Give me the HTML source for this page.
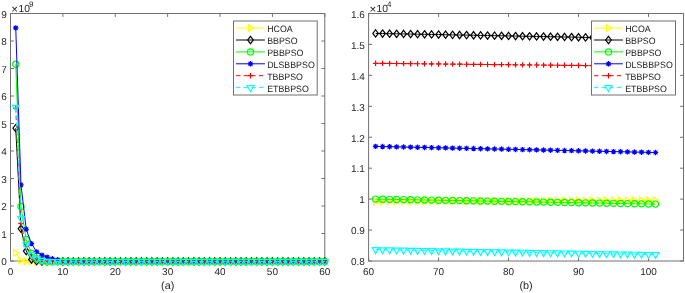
<!DOCTYPE html>
<html><head><meta charset="utf-8"><style>
html,body{margin:0;padding:0;background:#fff;width:685px;height:293px;overflow:hidden}
svg{display:block;will-change:transform}
.tk{font-family:"Liberation Sans",sans-serif;font-size:10px;fill:#262626;text-rendering:geometricPrecision}
.lg{font-family:"Liberation Sans",sans-serif;font-size:9.2px;fill:#1a1a1a;text-rendering:geometricPrecision}
</style></head><body>
<svg width="685" height="293" viewBox="0 0 685 293">
<clipPath id="cl"><rect x="6.5" y="13.5" width="322.3" height="253.5"/></clipPath>
<clipPath id="cr"><rect x="368.6" y="13.5" width="314.9" height="247.5"/></clipPath>
<path d="M10.5 261v-3.4M10.5 13.5v3.4M62.88 261v-3.4M62.88 13.5v3.4M115.27 261v-3.4M115.27 13.5v3.4M167.65 261v-3.4M167.65 13.5v3.4M220.03 261v-3.4M220.03 13.5v3.4M272.42 261v-3.4M272.42 13.5v3.4M324.8 261v-3.4M324.8 13.5v3.4M10.5 261h3.4M324.8 261h-3.4M10.5 233.5h3.4M324.8 233.5h-3.4M10.5 206h3.4M324.8 206h-3.4M10.5 178.5h3.4M324.8 178.5h-3.4M10.5 151h3.4M324.8 151h-3.4M10.5 123.5h3.4M324.8 123.5h-3.4M10.5 96h3.4M324.8 96h-3.4M10.5 68.5h3.4M324.8 68.5h-3.4M10.5 41h3.4M324.8 41h-3.4M10.5 13.5h3.4M324.8 13.5h-3.4" stroke="#707070" fill="none"/>
<rect x="10.5" y="13.5" width="314.3" height="247.5" fill="none" stroke="#707070"/>
<text x="10.5" y="275.0" text-anchor="middle" class="tk">0</text>
<text x="62.88" y="275.0" text-anchor="middle" class="tk">10</text>
<text x="115.27" y="275.0" text-anchor="middle" class="tk">20</text>
<text x="167.65" y="275.0" text-anchor="middle" class="tk">30</text>
<text x="220.03" y="275.0" text-anchor="middle" class="tk">40</text>
<text x="272.42" y="275.0" text-anchor="middle" class="tk">50</text>
<text x="324.8" y="275.0" text-anchor="middle" class="tk">60</text>
<text x="6.7" y="265.3" text-anchor="end" class="tk">0</text>
<text x="6.7" y="237.8" text-anchor="end" class="tk">1</text>
<text x="6.7" y="210.3" text-anchor="end" class="tk">2</text>
<text x="6.7" y="182.8" text-anchor="end" class="tk">3</text>
<text x="6.7" y="155.3" text-anchor="end" class="tk">4</text>
<text x="6.7" y="127.8" text-anchor="end" class="tk">5</text>
<text x="6.7" y="100.3" text-anchor="end" class="tk">6</text>
<text x="6.7" y="72.8" text-anchor="end" class="tk">7</text>
<text x="6.7" y="45.3" text-anchor="end" class="tk">8</text>
<text x="6.7" y="17.8" text-anchor="end" class="tk">9</text>
<text x="11.3" y="12.6" class="tk"><tspan style="font-size:11.5px">×</tspan><tspan dx="0.4" dy="-0.3" style="font-size:10.3px">10</tspan><tspan dx="-1.0" dy="-5.4" style="font-size:8px">9</tspan></text>
<text x="167.65" y="289" text-anchor="middle" class="tk" style="font-size:10.8px">(a)</text>
<path d="M368.6 261v-3.4M368.6 13.5v3.4M438.58 261v-3.4M438.58 13.5v3.4M508.56 261v-3.4M508.56 13.5v3.4M578.53 261v-3.4M578.53 13.5v3.4M648.51 261v-3.4M648.51 13.5v3.4M368.6 261h3.4M683.5 261h-3.4M368.6 230.06h3.4M683.5 230.06h-3.4M368.6 199.12h3.4M683.5 199.12h-3.4M368.6 168.19h3.4M683.5 168.19h-3.4M368.6 137.25h3.4M683.5 137.25h-3.4M368.6 106.31h3.4M683.5 106.31h-3.4M368.6 75.37h3.4M683.5 75.37h-3.4M368.6 44.44h3.4M683.5 44.44h-3.4M368.6 13.5h3.4M683.5 13.5h-3.4" stroke="#707070" fill="none"/>
<rect x="368.6" y="13.5" width="314.9" height="247.5" fill="none" stroke="#707070"/>
<text x="368.6" y="275.0" text-anchor="middle" class="tk">60</text>
<text x="438.58" y="275.0" text-anchor="middle" class="tk">70</text>
<text x="508.56" y="275.0" text-anchor="middle" class="tk">80</text>
<text x="578.53" y="275.0" text-anchor="middle" class="tk">90</text>
<text x="648.51" y="275.0" text-anchor="middle" class="tk">100</text>
<text x="364.8" y="265.3" text-anchor="end" class="tk">0.8</text>
<text x="364.8" y="234.36" text-anchor="end" class="tk">0.9</text>
<text x="364.8" y="203.43" text-anchor="end" class="tk">1</text>
<text x="364.8" y="172.49" text-anchor="end" class="tk">1.1</text>
<text x="364.8" y="141.55" text-anchor="end" class="tk">1.2</text>
<text x="364.8" y="110.61" text-anchor="end" class="tk">1.3</text>
<text x="364.8" y="79.67" text-anchor="end" class="tk">1.4</text>
<text x="364.8" y="48.74" text-anchor="end" class="tk">1.5</text>
<text x="364.8" y="17.8" text-anchor="end" class="tk">1.6</text>
<text x="369.4" y="12.6" class="tk"><tspan style="font-size:11.5px">×</tspan><tspan dx="0.4" dy="-0.3" style="font-size:10.3px">10</tspan><tspan dx="-1.0" dy="-5.4" style="font-size:8px">4</tspan></text>
<text x="526.05" y="289" text-anchor="middle" class="tk" style="font-size:10.8px">(b)</text>
<g clip-path="url(#cl)" stroke-width="1"><path d="M15.74 252.96L20.98 260.4L26.22 261.5L31.45 261.5L36.69 261.5L41.93 261.5L47.17 261.5L52.41 261.5L57.65 261.5L62.88 261.5L68.12 261.5L73.36 261.5L78.6 261.5L83.84 261.5L89.08 261.5L94.31 261.5L99.55 261.5L104.79 261.5L110.03 261.5L115.27 261.5L120.5 261.5L125.74 261.5L130.98 261.5L136.22 261.5L141.46 261.5L146.7 261.5L151.94 261.5L157.17 261.5L162.41 261.5L167.65 261.5L172.89 261.5L178.13 261.5L183.37 261.5L188.6 261.5L193.84 261.5L199.08 261.5L204.32 261.5L209.56 261.5L214.8 261.5L220.03 261.5L225.27 261.5L230.51 261.5L235.75 261.5L240.99 261.5L246.23 261.5L251.46 261.5L256.7 261.5L261.94 261.5L267.18 261.5L272.42 261.5L277.66 261.5L282.89 261.5L288.13 261.5L293.37 261.5L298.61 261.5L303.85 261.5L309.08 261.5L314.32 261.5L319.56 261.5L324.8 261.5" fill="none" stroke="#ffff00"/><g stroke-width="1.2"><path d="M13.64 249.66L18.84 252.96L13.64 256.26Z" fill="none" stroke="#ffff00"/><path d="M18.88 257.1L24.08 260.4L18.88 263.7Z" fill="none" stroke="#ffff00"/><path d="M24.12 258.2L29.32 261.5L24.12 264.8Z" fill="none" stroke="#ffff00"/><path d="M29.35 258.2L34.55 261.5L29.35 264.8Z" fill="none" stroke="#ffff00"/><path d="M34.59 258.2L39.79 261.5L34.59 264.8Z" fill="none" stroke="#ffff00"/><path d="M39.83 258.2L45.03 261.5L39.83 264.8Z" fill="none" stroke="#ffff00"/><path d="M45.07 258.2L50.27 261.5L45.07 264.8Z" fill="none" stroke="#ffff00"/><path d="M50.31 258.2L55.51 261.5L50.31 264.8Z" fill="none" stroke="#ffff00"/><path d="M55.55 258.2L60.75 261.5L55.55 264.8Z" fill="none" stroke="#ffff00"/><path d="M60.78 258.2L65.98 261.5L60.78 264.8Z" fill="none" stroke="#ffff00"/><path d="M66.02 258.2L71.22 261.5L66.02 264.8Z" fill="none" stroke="#ffff00"/><path d="M71.26 258.2L76.46 261.5L71.26 264.8Z" fill="none" stroke="#ffff00"/><path d="M76.5 258.2L81.7 261.5L76.5 264.8Z" fill="none" stroke="#ffff00"/><path d="M81.74 258.2L86.94 261.5L81.74 264.8Z" fill="none" stroke="#ffff00"/><path d="M86.98 258.2L92.17 261.5L86.98 264.8Z" fill="none" stroke="#ffff00"/><path d="M92.21 258.2L97.41 261.5L92.21 264.8Z" fill="none" stroke="#ffff00"/><path d="M97.45 258.2L102.65 261.5L97.45 264.8Z" fill="none" stroke="#ffff00"/><path d="M102.69 258.2L107.89 261.5L102.69 264.8Z" fill="none" stroke="#ffff00"/><path d="M107.93 258.2L113.13 261.5L107.93 264.8Z" fill="none" stroke="#ffff00"/><path d="M113.17 258.2L118.37 261.5L113.17 264.8Z" fill="none" stroke="#ffff00"/><path d="M118.41 258.2L123.6 261.5L118.41 264.8Z" fill="none" stroke="#ffff00"/><path d="M123.64 258.2L128.84 261.5L123.64 264.8Z" fill="none" stroke="#ffff00"/><path d="M128.88 258.2L134.08 261.5L128.88 264.8Z" fill="none" stroke="#ffff00"/><path d="M134.12 258.2L139.32 261.5L134.12 264.8Z" fill="none" stroke="#ffff00"/><path d="M139.36 258.2L144.56 261.5L139.36 264.8Z" fill="none" stroke="#ffff00"/><path d="M144.6 258.2L149.8 261.5L144.6 264.8Z" fill="none" stroke="#ffff00"/><path d="M149.84 258.2L155.03 261.5L149.84 264.8Z" fill="none" stroke="#ffff00"/><path d="M155.07 258.2L160.27 261.5L155.07 264.8Z" fill="none" stroke="#ffff00"/><path d="M160.31 258.2L165.51 261.5L160.31 264.8Z" fill="none" stroke="#ffff00"/><path d="M165.55 258.2L170.75 261.5L165.55 264.8Z" fill="none" stroke="#ffff00"/><path d="M170.79 258.2L175.99 261.5L170.79 264.8Z" fill="none" stroke="#ffff00"/><path d="M176.03 258.2L181.23 261.5L176.03 264.8Z" fill="none" stroke="#ffff00"/><path d="M181.27 258.2L186.47 261.5L181.27 264.8Z" fill="none" stroke="#ffff00"/><path d="M186.5 258.2L191.7 261.5L186.5 264.8Z" fill="none" stroke="#ffff00"/><path d="M191.74 258.2L196.94 261.5L191.74 264.8Z" fill="none" stroke="#ffff00"/><path d="M196.98 258.2L202.18 261.5L196.98 264.8Z" fill="none" stroke="#ffff00"/><path d="M202.22 258.2L207.42 261.5L202.22 264.8Z" fill="none" stroke="#ffff00"/><path d="M207.46 258.2L212.66 261.5L207.46 264.8Z" fill="none" stroke="#ffff00"/><path d="M212.7 258.2L217.9 261.5L212.7 264.8Z" fill="none" stroke="#ffff00"/><path d="M217.93 258.2L223.13 261.5L217.93 264.8Z" fill="none" stroke="#ffff00"/><path d="M223.17 258.2L228.37 261.5L223.17 264.8Z" fill="none" stroke="#ffff00"/><path d="M228.41 258.2L233.61 261.5L228.41 264.8Z" fill="none" stroke="#ffff00"/><path d="M233.65 258.2L238.85 261.5L233.65 264.8Z" fill="none" stroke="#ffff00"/><path d="M238.89 258.2L244.09 261.5L238.89 264.8Z" fill="none" stroke="#ffff00"/><path d="M244.13 258.2L249.33 261.5L244.13 264.8Z" fill="none" stroke="#ffff00"/><path d="M249.36 258.2L254.56 261.5L249.36 264.8Z" fill="none" stroke="#ffff00"/><path d="M254.6 258.2L259.8 261.5L254.6 264.8Z" fill="none" stroke="#ffff00"/><path d="M259.84 258.2L265.04 261.5L259.84 264.8Z" fill="none" stroke="#ffff00"/><path d="M265.08 258.2L270.28 261.5L265.08 264.8Z" fill="none" stroke="#ffff00"/><path d="M270.32 258.2L275.52 261.5L270.32 264.8Z" fill="none" stroke="#ffff00"/><path d="M275.56 258.2L280.76 261.5L275.56 264.8Z" fill="none" stroke="#ffff00"/><path d="M280.79 258.2L285.99 261.5L280.79 264.8Z" fill="none" stroke="#ffff00"/><path d="M286.03 258.2L291.23 261.5L286.03 264.8Z" fill="none" stroke="#ffff00"/><path d="M291.27 258.2L296.47 261.5L291.27 264.8Z" fill="none" stroke="#ffff00"/><path d="M296.51 258.2L301.71 261.5L296.51 264.8Z" fill="none" stroke="#ffff00"/><path d="M301.75 258.2L306.95 261.5L301.75 264.8Z" fill="none" stroke="#ffff00"/><path d="M306.98 258.2L312.19 261.5L306.98 264.8Z" fill="none" stroke="#ffff00"/><path d="M312.22 258.2L317.42 261.5L312.22 264.8Z" fill="none" stroke="#ffff00"/><path d="M317.46 258.2L322.66 261.5L317.46 264.8Z" fill="none" stroke="#ffff00"/><path d="M322.7 258.2L327.9 261.5L322.7 264.8Z" fill="none" stroke="#ffff00"/></g><path d="M15.74 128.13L20.98 228.71L26.22 251.03L31.45 259.57L36.69 261.22L41.93 261.5L47.17 261.5L52.41 261.5L57.65 261.5L62.88 261.5L68.12 261.5L73.36 261.5L78.6 261.5L83.84 261.5L89.08 261.5L94.31 261.5L99.55 261.5L104.79 261.5L110.03 261.5L115.27 261.5L120.5 261.5L125.74 261.5L130.98 261.5L136.22 261.5L141.46 261.5L146.7 261.5L151.94 261.5L157.17 261.5L162.41 261.5L167.65 261.5L172.89 261.5L178.13 261.5L183.37 261.5L188.6 261.5L193.84 261.5L199.08 261.5L204.32 261.5L209.56 261.5L214.8 261.5L220.03 261.5L225.27 261.5L230.51 261.5L235.75 261.5L240.99 261.5L246.23 261.5L251.46 261.5L256.7 261.5L261.94 261.5L267.18 261.5L272.42 261.5L277.66 261.5L282.89 261.5L288.13 261.5L293.37 261.5L298.61 261.5L303.85 261.5L309.08 261.5L314.32 261.5L319.56 261.5L324.8 261.5" fill="none" stroke="#000000"/><g stroke-width="1.2"><path d="M15.74 124.48L18.54 128.13L15.74 131.78L12.94 128.13Z" fill="none" stroke="#000000"/><path d="M20.98 225.06L23.78 228.71L20.98 232.36L18.18 228.71Z" fill="none" stroke="#000000"/><path d="M26.22 247.38L29.02 251.03L26.22 254.68L23.42 251.03Z" fill="none" stroke="#000000"/><path d="M31.45 255.92L34.25 259.57L31.45 263.22L28.65 259.57Z" fill="none" stroke="#000000"/><path d="M36.69 257.57L39.49 261.22L36.69 264.87L33.89 261.22Z" fill="none" stroke="#000000"/><path d="M41.93 257.85L44.73 261.5L41.93 265.15L39.13 261.5Z" fill="none" stroke="#000000"/><path d="M47.17 257.85L49.97 261.5L47.17 265.15L44.37 261.5Z" fill="none" stroke="#000000"/><path d="M52.41 257.85L55.21 261.5L52.41 265.15L49.61 261.5Z" fill="none" stroke="#000000"/><path d="M57.65 257.85L60.45 261.5L57.65 265.15L54.85 261.5Z" fill="none" stroke="#000000"/><path d="M62.88 257.85L65.68 261.5L62.88 265.15L60.08 261.5Z" fill="none" stroke="#000000"/><path d="M68.12 257.85L70.92 261.5L68.12 265.15L65.32 261.5Z" fill="none" stroke="#000000"/><path d="M73.36 257.85L76.16 261.5L73.36 265.15L70.56 261.5Z" fill="none" stroke="#000000"/><path d="M78.6 257.85L81.4 261.5L78.6 265.15L75.8 261.5Z" fill="none" stroke="#000000"/><path d="M83.84 257.85L86.64 261.5L83.84 265.15L81.04 261.5Z" fill="none" stroke="#000000"/><path d="M89.08 257.85L91.88 261.5L89.08 265.15L86.28 261.5Z" fill="none" stroke="#000000"/><path d="M94.31 257.85L97.11 261.5L94.31 265.15L91.51 261.5Z" fill="none" stroke="#000000"/><path d="M99.55 257.85L102.35 261.5L99.55 265.15L96.75 261.5Z" fill="none" stroke="#000000"/><path d="M104.79 257.85L107.59 261.5L104.79 265.15L101.99 261.5Z" fill="none" stroke="#000000"/><path d="M110.03 257.85L112.83 261.5L110.03 265.15L107.23 261.5Z" fill="none" stroke="#000000"/><path d="M115.27 257.85L118.07 261.5L115.27 265.15L112.47 261.5Z" fill="none" stroke="#000000"/><path d="M120.5 257.85L123.3 261.5L120.5 265.15L117.7 261.5Z" fill="none" stroke="#000000"/><path d="M125.74 257.85L128.54 261.5L125.74 265.15L122.94 261.5Z" fill="none" stroke="#000000"/><path d="M130.98 257.85L133.78 261.5L130.98 265.15L128.18 261.5Z" fill="none" stroke="#000000"/><path d="M136.22 257.85L139.02 261.5L136.22 265.15L133.42 261.5Z" fill="none" stroke="#000000"/><path d="M141.46 257.85L144.26 261.5L141.46 265.15L138.66 261.5Z" fill="none" stroke="#000000"/><path d="M146.7 257.85L149.5 261.5L146.7 265.15L143.9 261.5Z" fill="none" stroke="#000000"/><path d="M151.94 257.85L154.74 261.5L151.94 265.15L149.13 261.5Z" fill="none" stroke="#000000"/><path d="M157.17 257.85L159.97 261.5L157.17 265.15L154.37 261.5Z" fill="none" stroke="#000000"/><path d="M162.41 257.85L165.21 261.5L162.41 265.15L159.61 261.5Z" fill="none" stroke="#000000"/><path d="M167.65 257.85L170.45 261.5L167.65 265.15L164.85 261.5Z" fill="none" stroke="#000000"/><path d="M172.89 257.85L175.69 261.5L172.89 265.15L170.09 261.5Z" fill="none" stroke="#000000"/><path d="M178.13 257.85L180.93 261.5L178.13 265.15L175.33 261.5Z" fill="none" stroke="#000000"/><path d="M183.37 257.85L186.17 261.5L183.37 265.15L180.56 261.5Z" fill="none" stroke="#000000"/><path d="M188.6 257.85L191.4 261.5L188.6 265.15L185.8 261.5Z" fill="none" stroke="#000000"/><path d="M193.84 257.85L196.64 261.5L193.84 265.15L191.04 261.5Z" fill="none" stroke="#000000"/><path d="M199.08 257.85L201.88 261.5L199.08 265.15L196.28 261.5Z" fill="none" stroke="#000000"/><path d="M204.32 257.85L207.12 261.5L204.32 265.15L201.52 261.5Z" fill="none" stroke="#000000"/><path d="M209.56 257.85L212.36 261.5L209.56 265.15L206.76 261.5Z" fill="none" stroke="#000000"/><path d="M214.8 257.85L217.6 261.5L214.8 265.15L212 261.5Z" fill="none" stroke="#000000"/><path d="M220.03 257.85L222.83 261.5L220.03 265.15L217.23 261.5Z" fill="none" stroke="#000000"/><path d="M225.27 257.85L228.07 261.5L225.27 265.15L222.47 261.5Z" fill="none" stroke="#000000"/><path d="M230.51 257.85L233.31 261.5L230.51 265.15L227.71 261.5Z" fill="none" stroke="#000000"/><path d="M235.75 257.85L238.55 261.5L235.75 265.15L232.95 261.5Z" fill="none" stroke="#000000"/><path d="M240.99 257.85L243.79 261.5L240.99 265.15L238.19 261.5Z" fill="none" stroke="#000000"/><path d="M246.23 257.85L249.03 261.5L246.23 265.15L243.43 261.5Z" fill="none" stroke="#000000"/><path d="M251.46 257.85L254.26 261.5L251.46 265.15L248.66 261.5Z" fill="none" stroke="#000000"/><path d="M256.7 257.85L259.5 261.5L256.7 265.15L253.9 261.5Z" fill="none" stroke="#000000"/><path d="M261.94 257.85L264.74 261.5L261.94 265.15L259.14 261.5Z" fill="none" stroke="#000000"/><path d="M267.18 257.85L269.98 261.5L267.18 265.15L264.38 261.5Z" fill="none" stroke="#000000"/><path d="M272.42 257.85L275.22 261.5L272.42 265.15L269.62 261.5Z" fill="none" stroke="#000000"/><path d="M277.66 257.85L280.46 261.5L277.66 265.15L274.86 261.5Z" fill="none" stroke="#000000"/><path d="M282.89 257.85L285.69 261.5L282.89 265.15L280.09 261.5Z" fill="none" stroke="#000000"/><path d="M288.13 257.85L290.93 261.5L288.13 265.15L285.33 261.5Z" fill="none" stroke="#000000"/><path d="M293.37 257.85L296.17 261.5L293.37 265.15L290.57 261.5Z" fill="none" stroke="#000000"/><path d="M298.61 257.85L301.41 261.5L298.61 265.15L295.81 261.5Z" fill="none" stroke="#000000"/><path d="M303.85 257.85L306.65 261.5L303.85 265.15L301.05 261.5Z" fill="none" stroke="#000000"/><path d="M309.08 257.85L311.88 261.5L309.08 265.15L306.28 261.5Z" fill="none" stroke="#000000"/><path d="M314.32 257.85L317.12 261.5L314.32 265.15L311.52 261.5Z" fill="none" stroke="#000000"/><path d="M319.56 257.85L322.36 261.5L319.56 265.15L316.76 261.5Z" fill="none" stroke="#000000"/><path d="M324.8 257.85L327.6 261.5L324.8 265.15L322 261.5Z" fill="none" stroke="#000000"/></g><path d="M15.74 64.2L20.98 206.39L26.22 239.46L31.45 253.23L36.69 258.74L41.93 260.67L47.17 261.5L52.41 261.5L57.65 261.5L62.88 261.5L68.12 261.5L73.36 261.5L78.6 261.5L83.84 261.5L89.08 261.5L94.31 261.5L99.55 261.5L104.79 261.5L110.03 261.5L115.27 261.5L120.5 261.5L125.74 261.5L130.98 261.5L136.22 261.5L141.46 261.5L146.7 261.5L151.94 261.5L157.17 261.5L162.41 261.5L167.65 261.5L172.89 261.5L178.13 261.5L183.37 261.5L188.6 261.5L193.84 261.5L199.08 261.5L204.32 261.5L209.56 261.5L214.8 261.5L220.03 261.5L225.27 261.5L230.51 261.5L235.75 261.5L240.99 261.5L246.23 261.5L251.46 261.5L256.7 261.5L261.94 261.5L267.18 261.5L272.42 261.5L277.66 261.5L282.89 261.5L288.13 261.5L293.37 261.5L298.61 261.5L303.85 261.5L309.08 261.5L314.32 261.5L319.56 261.5L324.8 261.5" fill="none" stroke="#00ff00"/><g stroke-width="1.2"><circle cx="15.74" cy="64.2" r="3.1" fill="none" stroke="#00ff00"/><circle cx="20.98" cy="206.39" r="3.1" fill="none" stroke="#00ff00"/><circle cx="26.22" cy="239.46" r="3.1" fill="none" stroke="#00ff00"/><circle cx="31.45" cy="253.23" r="3.1" fill="none" stroke="#00ff00"/><circle cx="36.69" cy="258.74" r="3.1" fill="none" stroke="#00ff00"/><circle cx="41.93" cy="260.67" r="3.1" fill="none" stroke="#00ff00"/><circle cx="47.17" cy="261.5" r="3.1" fill="none" stroke="#00ff00"/><circle cx="52.41" cy="261.5" r="3.1" fill="none" stroke="#00ff00"/><circle cx="57.65" cy="261.5" r="3.1" fill="none" stroke="#00ff00"/><circle cx="62.88" cy="261.5" r="3.1" fill="none" stroke="#00ff00"/><circle cx="68.12" cy="261.5" r="3.1" fill="none" stroke="#00ff00"/><circle cx="73.36" cy="261.5" r="3.1" fill="none" stroke="#00ff00"/><circle cx="78.6" cy="261.5" r="3.1" fill="none" stroke="#00ff00"/><circle cx="83.84" cy="261.5" r="3.1" fill="none" stroke="#00ff00"/><circle cx="89.08" cy="261.5" r="3.1" fill="none" stroke="#00ff00"/><circle cx="94.31" cy="261.5" r="3.1" fill="none" stroke="#00ff00"/><circle cx="99.55" cy="261.5" r="3.1" fill="none" stroke="#00ff00"/><circle cx="104.79" cy="261.5" r="3.1" fill="none" stroke="#00ff00"/><circle cx="110.03" cy="261.5" r="3.1" fill="none" stroke="#00ff00"/><circle cx="115.27" cy="261.5" r="3.1" fill="none" stroke="#00ff00"/><circle cx="120.5" cy="261.5" r="3.1" fill="none" stroke="#00ff00"/><circle cx="125.74" cy="261.5" r="3.1" fill="none" stroke="#00ff00"/><circle cx="130.98" cy="261.5" r="3.1" fill="none" stroke="#00ff00"/><circle cx="136.22" cy="261.5" r="3.1" fill="none" stroke="#00ff00"/><circle cx="141.46" cy="261.5" r="3.1" fill="none" stroke="#00ff00"/><circle cx="146.7" cy="261.5" r="3.1" fill="none" stroke="#00ff00"/><circle cx="151.94" cy="261.5" r="3.1" fill="none" stroke="#00ff00"/><circle cx="157.17" cy="261.5" r="3.1" fill="none" stroke="#00ff00"/><circle cx="162.41" cy="261.5" r="3.1" fill="none" stroke="#00ff00"/><circle cx="167.65" cy="261.5" r="3.1" fill="none" stroke="#00ff00"/><circle cx="172.89" cy="261.5" r="3.1" fill="none" stroke="#00ff00"/><circle cx="178.13" cy="261.5" r="3.1" fill="none" stroke="#00ff00"/><circle cx="183.37" cy="261.5" r="3.1" fill="none" stroke="#00ff00"/><circle cx="188.6" cy="261.5" r="3.1" fill="none" stroke="#00ff00"/><circle cx="193.84" cy="261.5" r="3.1" fill="none" stroke="#00ff00"/><circle cx="199.08" cy="261.5" r="3.1" fill="none" stroke="#00ff00"/><circle cx="204.32" cy="261.5" r="3.1" fill="none" stroke="#00ff00"/><circle cx="209.56" cy="261.5" r="3.1" fill="none" stroke="#00ff00"/><circle cx="214.8" cy="261.5" r="3.1" fill="none" stroke="#00ff00"/><circle cx="220.03" cy="261.5" r="3.1" fill="none" stroke="#00ff00"/><circle cx="225.27" cy="261.5" r="3.1" fill="none" stroke="#00ff00"/><circle cx="230.51" cy="261.5" r="3.1" fill="none" stroke="#00ff00"/><circle cx="235.75" cy="261.5" r="3.1" fill="none" stroke="#00ff00"/><circle cx="240.99" cy="261.5" r="3.1" fill="none" stroke="#00ff00"/><circle cx="246.23" cy="261.5" r="3.1" fill="none" stroke="#00ff00"/><circle cx="251.46" cy="261.5" r="3.1" fill="none" stroke="#00ff00"/><circle cx="256.7" cy="261.5" r="3.1" fill="none" stroke="#00ff00"/><circle cx="261.94" cy="261.5" r="3.1" fill="none" stroke="#00ff00"/><circle cx="267.18" cy="261.5" r="3.1" fill="none" stroke="#00ff00"/><circle cx="272.42" cy="261.5" r="3.1" fill="none" stroke="#00ff00"/><circle cx="277.66" cy="261.5" r="3.1" fill="none" stroke="#00ff00"/><circle cx="282.89" cy="261.5" r="3.1" fill="none" stroke="#00ff00"/><circle cx="288.13" cy="261.5" r="3.1" fill="none" stroke="#00ff00"/><circle cx="293.37" cy="261.5" r="3.1" fill="none" stroke="#00ff00"/><circle cx="298.61" cy="261.5" r="3.1" fill="none" stroke="#00ff00"/><circle cx="303.85" cy="261.5" r="3.1" fill="none" stroke="#00ff00"/><circle cx="309.08" cy="261.5" r="3.1" fill="none" stroke="#00ff00"/><circle cx="314.32" cy="261.5" r="3.1" fill="none" stroke="#00ff00"/><circle cx="319.56" cy="261.5" r="3.1" fill="none" stroke="#00ff00"/><circle cx="324.8" cy="261.5" r="3.1" fill="none" stroke="#00ff00"/></g><path d="M15.74 27.83L20.98 184.9L26.22 229.26L31.45 243.59L36.69 251.86L41.93 255.16L47.17 257.09L52.41 258.74L57.65 259.85L62.88 261.5L68.12 261.5L73.36 261.5L78.6 261.5L83.84 261.5L89.08 261.5L94.31 261.5L99.55 261.5L104.79 261.5L110.03 261.5L115.27 261.5L120.5 261.5L125.74 261.5L130.98 261.5L136.22 261.5L141.46 261.5L146.7 261.5L151.94 261.5L157.17 261.5L162.41 261.5L167.65 261.5L172.89 261.5L178.13 261.5L183.37 261.5L188.6 261.5L193.84 261.5L199.08 261.5L204.32 261.5L209.56 261.5L214.8 261.5L220.03 261.5L225.27 261.5L230.51 261.5L235.75 261.5L240.99 261.5L246.23 261.5L251.46 261.5L256.7 261.5L261.94 261.5L267.18 261.5L272.42 261.5L277.66 261.5L282.89 261.5L288.13 261.5L293.37 261.5L298.61 261.5L303.85 261.5L309.08 261.5L314.32 261.5L319.56 261.5L324.8 261.5" fill="none" stroke="#0000ff"/><g stroke-width="1.2"><path d="M13.79 25.88L17.68 29.77M13.79 29.77L17.68 25.88M13.04 27.83H18.44M15.74 25.13V30.53" stroke="#0000ff"/><path d="M19.03 182.95L22.92 186.84M19.03 186.84L22.92 182.95M18.28 184.9H23.68M20.98 182.2V187.6" stroke="#0000ff"/><path d="M24.27 227.32L28.16 231.2M24.27 231.2L28.16 227.32M23.52 229.26H28.92M26.22 226.56V231.96" stroke="#0000ff"/><path d="M29.51 241.64L33.4 245.53M29.51 245.53L33.4 241.64M28.75 243.59H34.15M31.45 240.89V246.29" stroke="#0000ff"/><path d="M34.75 249.91L38.64 253.8M34.75 253.8L38.64 249.91M33.99 251.86H39.39M36.69 249.16V254.56" stroke="#0000ff"/><path d="M39.99 253.22L43.87 257.11M39.99 257.11L43.87 253.22M39.23 255.16H44.63M41.93 252.46V257.86" stroke="#0000ff"/><path d="M45.22 255.15L49.11 259.04M45.22 259.04L49.11 255.15M44.47 257.09H49.87M47.17 254.39V259.79" stroke="#0000ff"/><path d="M50.46 256.8L54.35 260.69M50.46 260.69L54.35 256.8M49.71 258.74H55.11M52.41 256.04V261.44" stroke="#0000ff"/><path d="M55.7 257.9L59.59 261.79M55.7 261.79L59.59 257.9M54.95 259.85H60.35M57.65 257.15V262.55" stroke="#0000ff"/><path d="M60.94 259.56L64.83 263.44M60.94 263.44L64.83 259.56M60.18 261.5H65.58M62.88 258.8V264.2" stroke="#0000ff"/><path d="M66.18 259.56L70.07 263.44M66.18 263.44L70.07 259.56M65.42 261.5H70.82M68.12 258.8V264.2" stroke="#0000ff"/><path d="M71.42 259.56L75.3 263.44M71.42 263.44L75.3 259.56M70.66 261.5H76.06M73.36 258.8V264.2" stroke="#0000ff"/><path d="M76.65 259.56L80.54 263.44M76.65 263.44L80.54 259.56M75.9 261.5H81.3M78.6 258.8V264.2" stroke="#0000ff"/><path d="M81.89 259.56L85.78 263.44M81.89 263.44L85.78 259.56M81.14 261.5H86.54M83.84 258.8V264.2" stroke="#0000ff"/><path d="M87.13 259.56L91.02 263.44M87.13 263.44L91.02 259.56M86.38 261.5H91.78M89.08 258.8V264.2" stroke="#0000ff"/><path d="M92.37 259.56L96.26 263.44M92.37 263.44L96.26 259.56M91.61 261.5H97.01M94.31 258.8V264.2" stroke="#0000ff"/><path d="M97.61 259.56L101.5 263.44M97.61 263.44L101.5 259.56M96.85 261.5H102.25M99.55 258.8V264.2" stroke="#0000ff"/><path d="M102.85 259.56L106.73 263.44M102.85 263.44L106.73 259.56M102.09 261.5H107.49M104.79 258.8V264.2" stroke="#0000ff"/><path d="M108.08 259.56L111.97 263.44M108.08 263.44L111.97 259.56M107.33 261.5H112.73M110.03 258.8V264.2" stroke="#0000ff"/><path d="M113.32 259.56L117.21 263.44M113.32 263.44L117.21 259.56M112.57 261.5H117.97M115.27 258.8V264.2" stroke="#0000ff"/><path d="M118.56 259.56L122.45 263.44M118.56 263.44L122.45 259.56M117.8 261.5H123.2M120.5 258.8V264.2" stroke="#0000ff"/><path d="M123.8 259.56L127.69 263.44M123.8 263.44L127.69 259.56M123.04 261.5H128.44M125.74 258.8V264.2" stroke="#0000ff"/><path d="M129.04 259.56L132.93 263.44M129.04 263.44L132.93 259.56M128.28 261.5H133.68M130.98 258.8V264.2" stroke="#0000ff"/><path d="M134.28 259.56L138.16 263.44M134.28 263.44L138.16 259.56M133.52 261.5H138.92M136.22 258.8V264.2" stroke="#0000ff"/><path d="M139.51 259.56L143.4 263.44M139.51 263.44L143.4 259.56M138.76 261.5H144.16M141.46 258.8V264.2" stroke="#0000ff"/><path d="M144.75 259.56L148.64 263.44M144.75 263.44L148.64 259.56M144 261.5H149.4M146.7 258.8V264.2" stroke="#0000ff"/><path d="M149.99 259.56L153.88 263.44M149.99 263.44L153.88 259.56M149.24 261.5H154.63M151.94 258.8V264.2" stroke="#0000ff"/><path d="M155.23 259.56L159.12 263.44M155.23 263.44L159.12 259.56M154.47 261.5H159.87M157.17 258.8V264.2" stroke="#0000ff"/><path d="M160.47 259.56L164.36 263.44M160.47 263.44L164.36 259.56M159.71 261.5H165.11M162.41 258.8V264.2" stroke="#0000ff"/><path d="M165.71 259.56L169.59 263.44M165.71 263.44L169.59 259.56M164.95 261.5H170.35M167.65 258.8V264.2" stroke="#0000ff"/><path d="M170.94 259.56L174.83 263.44M170.94 263.44L174.83 259.56M170.19 261.5H175.59M172.89 258.8V264.2" stroke="#0000ff"/><path d="M176.18 259.56L180.07 263.44M176.18 263.44L180.07 259.56M175.43 261.5H180.83M178.13 258.8V264.2" stroke="#0000ff"/><path d="M181.42 259.56L185.31 263.44M181.42 263.44L185.31 259.56M180.67 261.5H186.06M183.37 258.8V264.2" stroke="#0000ff"/><path d="M186.66 259.56L190.55 263.44M186.66 263.44L190.55 259.56M185.9 261.5H191.3M188.6 258.8V264.2" stroke="#0000ff"/><path d="M191.9 259.56L195.79 263.44M191.9 263.44L195.79 259.56M191.14 261.5H196.54M193.84 258.8V264.2" stroke="#0000ff"/><path d="M197.14 259.56L201.02 263.44M197.14 263.44L201.02 259.56M196.38 261.5H201.78M199.08 258.8V264.2" stroke="#0000ff"/><path d="M202.37 259.56L206.26 263.44M202.37 263.44L206.26 259.56M201.62 261.5H207.02M204.32 258.8V264.2" stroke="#0000ff"/><path d="M207.61 259.56L211.5 263.44M207.61 263.44L211.5 259.56M206.86 261.5H212.26M209.56 258.8V264.2" stroke="#0000ff"/><path d="M212.85 259.56L216.74 263.44M212.85 263.44L216.74 259.56M212.1 261.5H217.5M214.8 258.8V264.2" stroke="#0000ff"/><path d="M218.09 259.56L221.98 263.44M218.09 263.44L221.98 259.56M217.33 261.5H222.73M220.03 258.8V264.2" stroke="#0000ff"/><path d="M223.33 259.56L227.22 263.44M223.33 263.44L227.22 259.56M222.57 261.5H227.97M225.27 258.8V264.2" stroke="#0000ff"/><path d="M228.57 259.56L232.45 263.44M228.57 263.44L232.45 259.56M227.81 261.5H233.21M230.51 258.8V264.2" stroke="#0000ff"/><path d="M233.8 259.56L237.69 263.44M233.8 263.44L237.69 259.56M233.05 261.5H238.45M235.75 258.8V264.2" stroke="#0000ff"/><path d="M239.04 259.56L242.93 263.44M239.04 263.44L242.93 259.56M238.29 261.5H243.69M240.99 258.8V264.2" stroke="#0000ff"/><path d="M244.28 259.56L248.17 263.44M244.28 263.44L248.17 259.56M243.53 261.5H248.93M246.23 258.8V264.2" stroke="#0000ff"/><path d="M249.52 259.56L253.41 263.44M249.52 263.44L253.41 259.56M248.76 261.5H254.16M251.46 258.8V264.2" stroke="#0000ff"/><path d="M254.76 259.56L258.65 263.44M254.76 263.44L258.65 259.56M254 261.5H259.4M256.7 258.8V264.2" stroke="#0000ff"/><path d="M260 259.56L263.88 263.44M260 263.44L263.88 259.56M259.24 261.5H264.64M261.94 258.8V264.2" stroke="#0000ff"/><path d="M265.23 259.56L269.12 263.44M265.23 263.44L269.12 259.56M264.48 261.5H269.88M267.18 258.8V264.2" stroke="#0000ff"/><path d="M270.47 259.56L274.36 263.44M270.47 263.44L274.36 259.56M269.72 261.5H275.12M272.42 258.8V264.2" stroke="#0000ff"/><path d="M275.71 259.56L279.6 263.44M275.71 263.44L279.6 259.56M274.96 261.5H280.36M277.66 258.8V264.2" stroke="#0000ff"/><path d="M280.95 259.56L284.84 263.44M280.95 263.44L284.84 259.56M280.19 261.5H285.59M282.89 258.8V264.2" stroke="#0000ff"/><path d="M286.19 259.56L290.08 263.44M286.19 263.44L290.08 259.56M285.43 261.5H290.83M288.13 258.8V264.2" stroke="#0000ff"/><path d="M291.43 259.56L295.31 263.44M291.43 263.44L295.31 259.56M290.67 261.5H296.07M293.37 258.8V264.2" stroke="#0000ff"/><path d="M296.66 259.56L300.55 263.44M296.66 263.44L300.55 259.56M295.91 261.5H301.31M298.61 258.8V264.2" stroke="#0000ff"/><path d="M301.9 259.56L305.79 263.44M301.9 263.44L305.79 259.56M301.15 261.5H306.55M303.85 258.8V264.2" stroke="#0000ff"/><path d="M307.14 259.56L311.03 263.44M307.14 263.44L311.03 259.56M306.38 261.5H311.78M309.08 258.8V264.2" stroke="#0000ff"/><path d="M312.38 259.56L316.27 263.44M312.38 263.44L316.27 259.56M311.62 261.5H317.02M314.32 258.8V264.2" stroke="#0000ff"/><path d="M317.62 259.56L321.51 263.44M317.62 263.44L321.51 259.56M316.86 261.5H322.26M319.56 258.8V264.2" stroke="#0000ff"/><path d="M322.86 259.56L326.74 263.44M322.86 263.44L326.74 259.56M322.1 261.5H327.5M324.8 258.8V264.2" stroke="#0000ff"/></g><path d="M15.74 108.29L20.98 223.47L26.22 246.34L31.45 255.99L36.69 259.57L41.93 260.95L47.17 261.5L52.41 261.5L57.65 261.5L62.88 261.5L68.12 261.5L73.36 261.5L78.6 261.5L83.84 261.5L89.08 261.5L94.31 261.5L99.55 261.5L104.79 261.5L110.03 261.5L115.27 261.5L120.5 261.5L125.74 261.5L130.98 261.5L136.22 261.5L141.46 261.5L146.7 261.5L151.94 261.5L157.17 261.5L162.41 261.5L167.65 261.5L172.89 261.5L178.13 261.5L183.37 261.5L188.6 261.5L193.84 261.5L199.08 261.5L204.32 261.5L209.56 261.5L214.8 261.5L220.03 261.5L225.27 261.5L230.51 261.5L235.75 261.5L240.99 261.5L246.23 261.5L251.46 261.5L256.7 261.5L261.94 261.5L267.18 261.5L272.42 261.5L277.66 261.5L282.89 261.5L288.13 261.5L293.37 261.5L298.61 261.5L303.85 261.5L309.08 261.5L314.32 261.5L319.56 261.5L324.8 261.5" fill="none" stroke="#ff0000" stroke-dasharray="4.3 3.3"/><g stroke-width="1.2"><path d="M13.04 108.29H18.44M15.74 105.59V110.99" stroke="#ff0000"/><path d="M18.28 223.47H23.68M20.98 220.77V226.17" stroke="#ff0000"/><path d="M23.52 246.34H28.92M26.22 243.64V249.04" stroke="#ff0000"/><path d="M28.75 255.99H34.15M31.45 253.29V258.69" stroke="#ff0000"/><path d="M33.99 259.57H39.39M36.69 256.87V262.27" stroke="#ff0000"/><path d="M39.23 260.95H44.63M41.93 258.25V263.65" stroke="#ff0000"/><path d="M44.47 261.5H49.87M47.17 258.8V264.2" stroke="#ff0000"/><path d="M49.71 261.5H55.11M52.41 258.8V264.2" stroke="#ff0000"/><path d="M54.95 261.5H60.35M57.65 258.8V264.2" stroke="#ff0000"/><path d="M60.18 261.5H65.58M62.88 258.8V264.2" stroke="#ff0000"/><path d="M65.42 261.5H70.82M68.12 258.8V264.2" stroke="#ff0000"/><path d="M70.66 261.5H76.06M73.36 258.8V264.2" stroke="#ff0000"/><path d="M75.9 261.5H81.3M78.6 258.8V264.2" stroke="#ff0000"/><path d="M81.14 261.5H86.54M83.84 258.8V264.2" stroke="#ff0000"/><path d="M86.38 261.5H91.78M89.08 258.8V264.2" stroke="#ff0000"/><path d="M91.61 261.5H97.01M94.31 258.8V264.2" stroke="#ff0000"/><path d="M96.85 261.5H102.25M99.55 258.8V264.2" stroke="#ff0000"/><path d="M102.09 261.5H107.49M104.79 258.8V264.2" stroke="#ff0000"/><path d="M107.33 261.5H112.73M110.03 258.8V264.2" stroke="#ff0000"/><path d="M112.57 261.5H117.97M115.27 258.8V264.2" stroke="#ff0000"/><path d="M117.8 261.5H123.2M120.5 258.8V264.2" stroke="#ff0000"/><path d="M123.04 261.5H128.44M125.74 258.8V264.2" stroke="#ff0000"/><path d="M128.28 261.5H133.68M130.98 258.8V264.2" stroke="#ff0000"/><path d="M133.52 261.5H138.92M136.22 258.8V264.2" stroke="#ff0000"/><path d="M138.76 261.5H144.16M141.46 258.8V264.2" stroke="#ff0000"/><path d="M144 261.5H149.4M146.7 258.8V264.2" stroke="#ff0000"/><path d="M149.24 261.5H154.63M151.94 258.8V264.2" stroke="#ff0000"/><path d="M154.47 261.5H159.87M157.17 258.8V264.2" stroke="#ff0000"/><path d="M159.71 261.5H165.11M162.41 258.8V264.2" stroke="#ff0000"/><path d="M164.95 261.5H170.35M167.65 258.8V264.2" stroke="#ff0000"/><path d="M170.19 261.5H175.59M172.89 258.8V264.2" stroke="#ff0000"/><path d="M175.43 261.5H180.83M178.13 258.8V264.2" stroke="#ff0000"/><path d="M180.67 261.5H186.06M183.37 258.8V264.2" stroke="#ff0000"/><path d="M185.9 261.5H191.3M188.6 258.8V264.2" stroke="#ff0000"/><path d="M191.14 261.5H196.54M193.84 258.8V264.2" stroke="#ff0000"/><path d="M196.38 261.5H201.78M199.08 258.8V264.2" stroke="#ff0000"/><path d="M201.62 261.5H207.02M204.32 258.8V264.2" stroke="#ff0000"/><path d="M206.86 261.5H212.26M209.56 258.8V264.2" stroke="#ff0000"/><path d="M212.1 261.5H217.5M214.8 258.8V264.2" stroke="#ff0000"/><path d="M217.33 261.5H222.73M220.03 258.8V264.2" stroke="#ff0000"/><path d="M222.57 261.5H227.97M225.27 258.8V264.2" stroke="#ff0000"/><path d="M227.81 261.5H233.21M230.51 258.8V264.2" stroke="#ff0000"/><path d="M233.05 261.5H238.45M235.75 258.8V264.2" stroke="#ff0000"/><path d="M238.29 261.5H243.69M240.99 258.8V264.2" stroke="#ff0000"/><path d="M243.53 261.5H248.93M246.23 258.8V264.2" stroke="#ff0000"/><path d="M248.76 261.5H254.16M251.46 258.8V264.2" stroke="#ff0000"/><path d="M254 261.5H259.4M256.7 258.8V264.2" stroke="#ff0000"/><path d="M259.24 261.5H264.64M261.94 258.8V264.2" stroke="#ff0000"/><path d="M264.48 261.5H269.88M267.18 258.8V264.2" stroke="#ff0000"/><path d="M269.72 261.5H275.12M272.42 258.8V264.2" stroke="#ff0000"/><path d="M274.96 261.5H280.36M277.66 258.8V264.2" stroke="#ff0000"/><path d="M280.19 261.5H285.59M282.89 258.8V264.2" stroke="#ff0000"/><path d="M285.43 261.5H290.83M288.13 258.8V264.2" stroke="#ff0000"/><path d="M290.67 261.5H296.07M293.37 258.8V264.2" stroke="#ff0000"/><path d="M295.91 261.5H301.31M298.61 258.8V264.2" stroke="#ff0000"/><path d="M301.15 261.5H306.55M303.85 258.8V264.2" stroke="#ff0000"/><path d="M306.38 261.5H311.78M309.08 258.8V264.2" stroke="#ff0000"/><path d="M311.62 261.5H317.02M314.32 258.8V264.2" stroke="#ff0000"/><path d="M316.86 261.5H322.26M319.56 258.8V264.2" stroke="#ff0000"/><path d="M322.1 261.5H327.5M324.8 258.8V264.2" stroke="#ff0000"/></g><path d="M15.74 107.19L20.98 218.24L26.22 244.97L31.45 254.61L36.69 258.74L41.93 260.4L47.17 261.22L52.41 261.5L57.65 261.5L62.88 261.5L68.12 261.5L73.36 261.5L78.6 261.5L83.84 261.5L89.08 261.5L94.31 261.5L99.55 261.5L104.79 261.5L110.03 261.5L115.27 261.5L120.5 261.5L125.74 261.5L130.98 261.5L136.22 261.5L141.46 261.5L146.7 261.5L151.94 261.5L157.17 261.5L162.41 261.5L167.65 261.5L172.89 261.5L178.13 261.5L183.37 261.5L188.6 261.5L193.84 261.5L199.08 261.5L204.32 261.5L209.56 261.5L214.8 261.5L220.03 261.5L225.27 261.5L230.51 261.5L235.75 261.5L240.99 261.5L246.23 261.5L251.46 261.5L256.7 261.5L261.94 261.5L267.18 261.5L272.42 261.5L277.66 261.5L282.89 261.5L288.13 261.5L293.37 261.5L298.61 261.5L303.85 261.5L309.08 261.5L314.32 261.5L319.56 261.5L324.8 261.5" fill="none" stroke="#00ffff" stroke-dasharray="4.3 3.3"/><g stroke-width="1.2"><path d="M12.34 105.29L19.14 105.29L15.74 111.09Z" fill="none" stroke="#00ffff"/><path d="M17.58 216.34L24.38 216.34L20.98 222.14Z" fill="none" stroke="#00ffff"/><path d="M22.82 243.07L29.62 243.07L26.22 248.87Z" fill="none" stroke="#00ffff"/><path d="M28.05 252.71L34.85 252.71L31.45 258.51Z" fill="none" stroke="#00ffff"/><path d="M33.29 256.84L40.09 256.84L36.69 262.64Z" fill="none" stroke="#00ffff"/><path d="M38.53 258.5L45.33 258.5L41.93 264.3Z" fill="none" stroke="#00ffff"/><path d="M43.77 259.32L50.57 259.32L47.17 265.12Z" fill="none" stroke="#00ffff"/><path d="M49.01 259.6L55.81 259.6L52.41 265.4Z" fill="none" stroke="#00ffff"/><path d="M54.25 259.6L61.05 259.6L57.65 265.4Z" fill="none" stroke="#00ffff"/><path d="M59.48 259.6L66.28 259.6L62.88 265.4Z" fill="none" stroke="#00ffff"/><path d="M64.72 259.6L71.52 259.6L68.12 265.4Z" fill="none" stroke="#00ffff"/><path d="M69.96 259.6L76.76 259.6L73.36 265.4Z" fill="none" stroke="#00ffff"/><path d="M75.2 259.6L82 259.6L78.6 265.4Z" fill="none" stroke="#00ffff"/><path d="M80.44 259.6L87.24 259.6L83.84 265.4Z" fill="none" stroke="#00ffff"/><path d="M85.67 259.6L92.48 259.6L89.08 265.4Z" fill="none" stroke="#00ffff"/><path d="M90.91 259.6L97.71 259.6L94.31 265.4Z" fill="none" stroke="#00ffff"/><path d="M96.15 259.6L102.95 259.6L99.55 265.4Z" fill="none" stroke="#00ffff"/><path d="M101.39 259.6L108.19 259.6L104.79 265.4Z" fill="none" stroke="#00ffff"/><path d="M106.63 259.6L113.43 259.6L110.03 265.4Z" fill="none" stroke="#00ffff"/><path d="M111.87 259.6L118.67 259.6L115.27 265.4Z" fill="none" stroke="#00ffff"/><path d="M117.1 259.6L123.91 259.6L120.5 265.4Z" fill="none" stroke="#00ffff"/><path d="M122.34 259.6L129.14 259.6L125.74 265.4Z" fill="none" stroke="#00ffff"/><path d="M127.58 259.6L134.38 259.6L130.98 265.4Z" fill="none" stroke="#00ffff"/><path d="M132.82 259.6L139.62 259.6L136.22 265.4Z" fill="none" stroke="#00ffff"/><path d="M138.06 259.6L144.86 259.6L141.46 265.4Z" fill="none" stroke="#00ffff"/><path d="M143.3 259.6L150.1 259.6L146.7 265.4Z" fill="none" stroke="#00ffff"/><path d="M148.53 259.6L155.34 259.6L151.94 265.4Z" fill="none" stroke="#00ffff"/><path d="M153.77 259.6L160.57 259.6L157.17 265.4Z" fill="none" stroke="#00ffff"/><path d="M159.01 259.6L165.81 259.6L162.41 265.4Z" fill="none" stroke="#00ffff"/><path d="M164.25 259.6L171.05 259.6L167.65 265.4Z" fill="none" stroke="#00ffff"/><path d="M169.49 259.6L176.29 259.6L172.89 265.4Z" fill="none" stroke="#00ffff"/><path d="M174.73 259.6L181.53 259.6L178.13 265.4Z" fill="none" stroke="#00ffff"/><path d="M179.97 259.6L186.77 259.6L183.37 265.4Z" fill="none" stroke="#00ffff"/><path d="M185.2 259.6L192 259.6L188.6 265.4Z" fill="none" stroke="#00ffff"/><path d="M190.44 259.6L197.24 259.6L193.84 265.4Z" fill="none" stroke="#00ffff"/><path d="M195.68 259.6L202.48 259.6L199.08 265.4Z" fill="none" stroke="#00ffff"/><path d="M200.92 259.6L207.72 259.6L204.32 265.4Z" fill="none" stroke="#00ffff"/><path d="M206.16 259.6L212.96 259.6L209.56 265.4Z" fill="none" stroke="#00ffff"/><path d="M211.4 259.6L218.2 259.6L214.8 265.4Z" fill="none" stroke="#00ffff"/><path d="M216.63 259.6L223.43 259.6L220.03 265.4Z" fill="none" stroke="#00ffff"/><path d="M221.87 259.6L228.67 259.6L225.27 265.4Z" fill="none" stroke="#00ffff"/><path d="M227.11 259.6L233.91 259.6L230.51 265.4Z" fill="none" stroke="#00ffff"/><path d="M232.35 259.6L239.15 259.6L235.75 265.4Z" fill="none" stroke="#00ffff"/><path d="M237.59 259.6L244.39 259.6L240.99 265.4Z" fill="none" stroke="#00ffff"/><path d="M242.83 259.6L249.63 259.6L246.23 265.4Z" fill="none" stroke="#00ffff"/><path d="M248.06 259.6L254.86 259.6L251.46 265.4Z" fill="none" stroke="#00ffff"/><path d="M253.3 259.6L260.1 259.6L256.7 265.4Z" fill="none" stroke="#00ffff"/><path d="M258.54 259.6L265.34 259.6L261.94 265.4Z" fill="none" stroke="#00ffff"/><path d="M263.78 259.6L270.58 259.6L267.18 265.4Z" fill="none" stroke="#00ffff"/><path d="M269.02 259.6L275.82 259.6L272.42 265.4Z" fill="none" stroke="#00ffff"/><path d="M274.26 259.6L281.06 259.6L277.66 265.4Z" fill="none" stroke="#00ffff"/><path d="M279.49 259.6L286.29 259.6L282.89 265.4Z" fill="none" stroke="#00ffff"/><path d="M284.73 259.6L291.53 259.6L288.13 265.4Z" fill="none" stroke="#00ffff"/><path d="M289.97 259.6L296.77 259.6L293.37 265.4Z" fill="none" stroke="#00ffff"/><path d="M295.21 259.6L302.01 259.6L298.61 265.4Z" fill="none" stroke="#00ffff"/><path d="M300.45 259.6L307.25 259.6L303.85 265.4Z" fill="none" stroke="#00ffff"/><path d="M305.69 259.6L312.48 259.6L309.08 265.4Z" fill="none" stroke="#00ffff"/><path d="M310.92 259.6L317.72 259.6L314.32 265.4Z" fill="none" stroke="#00ffff"/><path d="M316.16 259.6L322.96 259.6L319.56 265.4Z" fill="none" stroke="#00ffff"/><path d="M321.4 259.6L328.2 259.6L324.8 265.4Z" fill="none" stroke="#00ffff"/></g></g>
<g clip-path="url(#cr)" stroke-width="1"><path d="M375.6 201.5L382.6 201.47L389.59 201.44L396.59 201.4L403.59 201.37L410.59 201.34L417.58 201.31L424.58 201.27L431.58 201.24L438.58 201.21L445.58 201.18L452.57 201.14L459.57 201.11L466.57 201.08L473.57 201.04L480.56 201.01L487.56 200.98L494.56 200.95L501.56 200.91L508.56 200.88L515.55 200.85L522.55 200.82L529.55 200.78L536.55 200.75L543.54 200.72L550.54 200.69L557.54 200.66L564.54 200.62L571.54 200.59L578.53 200.56L585.53 200.52L592.53 200.49L599.53 200.46L606.52 200.43L613.52 200.39L620.52 200.36L627.52 200.33L634.52 200.3L641.51 200.26L648.51 200.23L655.51 200.2" fill="none" stroke="#ffff00"/><g stroke-width="1.2"><path d="M373.5 198.2L378.7 201.5L373.5 204.8Z" fill="none" stroke="#ffff00"/><path d="M380.5 198.17L385.7 201.47L380.5 204.77Z" fill="none" stroke="#ffff00"/><path d="M387.49 198.13L392.69 201.44L387.49 204.74Z" fill="none" stroke="#ffff00"/><path d="M394.49 198.1L399.69 201.4L394.49 204.7Z" fill="none" stroke="#ffff00"/><path d="M401.49 198.07L406.69 201.37L401.49 204.67Z" fill="none" stroke="#ffff00"/><path d="M408.49 198.04L413.69 201.34L408.49 204.64Z" fill="none" stroke="#ffff00"/><path d="M415.48 198L420.68 201.31L415.48 204.61Z" fill="none" stroke="#ffff00"/><path d="M422.48 197.97L427.68 201.27L422.48 204.57Z" fill="none" stroke="#ffff00"/><path d="M429.48 197.94L434.68 201.24L429.48 204.54Z" fill="none" stroke="#ffff00"/><path d="M436.48 197.91L441.68 201.21L436.48 204.51Z" fill="none" stroke="#ffff00"/><path d="M443.48 197.88L448.68 201.18L443.48 204.48Z" fill="none" stroke="#ffff00"/><path d="M450.47 197.84L455.67 201.14L450.47 204.44Z" fill="none" stroke="#ffff00"/><path d="M457.47 197.81L462.67 201.11L457.47 204.41Z" fill="none" stroke="#ffff00"/><path d="M464.47 197.78L469.67 201.08L464.47 204.38Z" fill="none" stroke="#ffff00"/><path d="M471.47 197.74L476.67 201.04L471.47 204.34Z" fill="none" stroke="#ffff00"/><path d="M478.46 197.71L483.66 201.01L478.46 204.31Z" fill="none" stroke="#ffff00"/><path d="M485.46 197.68L490.66 200.98L485.46 204.28Z" fill="none" stroke="#ffff00"/><path d="M492.46 197.65L497.66 200.95L492.46 204.25Z" fill="none" stroke="#ffff00"/><path d="M499.46 197.61L504.66 200.91L499.46 204.22Z" fill="none" stroke="#ffff00"/><path d="M506.46 197.58L511.66 200.88L506.46 204.18Z" fill="none" stroke="#ffff00"/><path d="M513.45 197.55L518.65 200.85L513.45 204.15Z" fill="none" stroke="#ffff00"/><path d="M520.45 197.52L525.65 200.82L520.45 204.12Z" fill="none" stroke="#ffff00"/><path d="M527.45 197.48L532.65 200.78L527.45 204.09Z" fill="none" stroke="#ffff00"/><path d="M534.45 197.45L539.65 200.75L534.45 204.05Z" fill="none" stroke="#ffff00"/><path d="M541.44 197.42L546.64 200.72L541.44 204.02Z" fill="none" stroke="#ffff00"/><path d="M548.44 197.39L553.64 200.69L548.44 203.99Z" fill="none" stroke="#ffff00"/><path d="M555.44 197.35L560.64 200.66L555.44 203.96Z" fill="none" stroke="#ffff00"/><path d="M562.44 197.32L567.64 200.62L562.44 203.92Z" fill="none" stroke="#ffff00"/><path d="M569.44 197.29L574.64 200.59L569.44 203.89Z" fill="none" stroke="#ffff00"/><path d="M576.43 197.26L581.63 200.56L576.43 203.86Z" fill="none" stroke="#ffff00"/><path d="M583.43 197.22L588.63 200.52L583.43 203.82Z" fill="none" stroke="#ffff00"/><path d="M590.43 197.19L595.63 200.49L590.43 203.79Z" fill="none" stroke="#ffff00"/><path d="M597.43 197.16L602.63 200.46L597.43 203.76Z" fill="none" stroke="#ffff00"/><path d="M604.42 197.13L609.62 200.43L604.42 203.73Z" fill="none" stroke="#ffff00"/><path d="M611.42 197.09L616.62 200.39L611.42 203.69Z" fill="none" stroke="#ffff00"/><path d="M618.42 197.06L623.62 200.36L618.42 203.66Z" fill="none" stroke="#ffff00"/><path d="M625.42 197.03L630.62 200.33L625.42 203.63Z" fill="none" stroke="#ffff00"/><path d="M632.42 197L637.62 200.3L632.42 203.6Z" fill="none" stroke="#ffff00"/><path d="M639.41 196.96L644.61 200.26L639.41 203.56Z" fill="none" stroke="#ffff00"/><path d="M646.41 196.93L651.61 200.23L646.41 203.53Z" fill="none" stroke="#ffff00"/><path d="M653.41 196.9L658.61 200.2L653.41 203.5Z" fill="none" stroke="#ffff00"/></g><path d="M375.6 33.4L382.6 33.53L389.59 33.66L396.59 33.8L403.59 33.93L410.59 34.06L417.58 34.2L424.58 34.33L431.58 34.46L438.58 34.59L445.58 34.73L452.57 34.86L459.57 34.99L466.57 35.12L473.57 35.26L480.56 35.39L487.56 35.52L494.56 35.65L501.56 35.79L508.56 35.92L515.55 36.05L522.55 36.18L529.55 36.31L536.55 36.45L543.54 36.58L550.54 36.71L557.54 36.84L564.54 36.98L571.54 37.11L578.53 37.24L585.53 37.38L592.53 37.51L599.53 37.64L606.52 37.77L613.52 37.91L620.52 38.04L627.52 38.17L634.52 38.3L641.51 38.44L648.51 38.57L655.51 38.7" fill="none" stroke="#000000"/><g stroke-width="1.2"><path d="M375.6 29.75L378.4 33.4L375.6 37.05L372.8 33.4Z" fill="none" stroke="#000000"/><path d="M382.6 29.88L385.4 33.53L382.6 37.18L379.8 33.53Z" fill="none" stroke="#000000"/><path d="M389.59 30.02L392.39 33.66L389.59 37.31L386.79 33.66Z" fill="none" stroke="#000000"/><path d="M396.59 30.15L399.39 33.8L396.59 37.45L393.79 33.8Z" fill="none" stroke="#000000"/><path d="M403.59 30.28L406.39 33.93L403.59 37.58L400.79 33.93Z" fill="none" stroke="#000000"/><path d="M410.59 30.41L413.39 34.06L410.59 37.71L407.79 34.06Z" fill="none" stroke="#000000"/><path d="M417.58 30.55L420.38 34.2L417.58 37.84L414.78 34.2Z" fill="none" stroke="#000000"/><path d="M424.58 30.68L427.38 34.33L424.58 37.98L421.78 34.33Z" fill="none" stroke="#000000"/><path d="M431.58 30.81L434.38 34.46L431.58 38.11L428.78 34.46Z" fill="none" stroke="#000000"/><path d="M438.58 30.94L441.38 34.59L438.58 38.24L435.78 34.59Z" fill="none" stroke="#000000"/><path d="M445.58 31.08L448.38 34.73L445.58 38.38L442.78 34.73Z" fill="none" stroke="#000000"/><path d="M452.57 31.21L455.37 34.86L452.57 38.51L449.77 34.86Z" fill="none" stroke="#000000"/><path d="M459.57 31.34L462.37 34.99L459.57 38.64L456.77 34.99Z" fill="none" stroke="#000000"/><path d="M466.57 31.47L469.37 35.12L466.57 38.77L463.77 35.12Z" fill="none" stroke="#000000"/><path d="M473.57 31.61L476.37 35.26L473.57 38.91L470.77 35.26Z" fill="none" stroke="#000000"/><path d="M480.56 31.74L483.36 35.39L480.56 39.04L477.76 35.39Z" fill="none" stroke="#000000"/><path d="M487.56 31.87L490.36 35.52L487.56 39.17L484.76 35.52Z" fill="none" stroke="#000000"/><path d="M494.56 32L497.36 35.65L494.56 39.3L491.76 35.65Z" fill="none" stroke="#000000"/><path d="M501.56 32.14L504.36 35.79L501.56 39.44L498.76 35.79Z" fill="none" stroke="#000000"/><path d="M508.56 32.27L511.36 35.92L508.56 39.57L505.76 35.92Z" fill="none" stroke="#000000"/><path d="M515.55 32.4L518.35 36.05L515.55 39.7L512.75 36.05Z" fill="none" stroke="#000000"/><path d="M522.55 32.53L525.35 36.18L522.55 39.83L519.75 36.18Z" fill="none" stroke="#000000"/><path d="M529.55 32.66L532.35 36.31L529.55 39.96L526.75 36.31Z" fill="none" stroke="#000000"/><path d="M536.55 32.8L539.35 36.45L536.55 40.1L533.75 36.45Z" fill="none" stroke="#000000"/><path d="M543.54 32.93L546.34 36.58L543.54 40.23L540.74 36.58Z" fill="none" stroke="#000000"/><path d="M550.54 33.06L553.34 36.71L550.54 40.36L547.74 36.71Z" fill="none" stroke="#000000"/><path d="M557.54 33.2L560.34 36.84L557.54 40.49L554.74 36.84Z" fill="none" stroke="#000000"/><path d="M564.54 33.33L567.34 36.98L564.54 40.63L561.74 36.98Z" fill="none" stroke="#000000"/><path d="M571.54 33.46L574.34 37.11L571.54 40.76L568.74 37.11Z" fill="none" stroke="#000000"/><path d="M578.53 33.59L581.33 37.24L578.53 40.89L575.73 37.24Z" fill="none" stroke="#000000"/><path d="M585.53 33.73L588.33 37.38L585.53 41.02L582.73 37.38Z" fill="none" stroke="#000000"/><path d="M592.53 33.86L595.33 37.51L592.53 41.16L589.73 37.51Z" fill="none" stroke="#000000"/><path d="M599.53 33.99L602.33 37.64L599.53 41.29L596.73 37.64Z" fill="none" stroke="#000000"/><path d="M606.52 34.12L609.32 37.77L606.52 41.42L603.72 37.77Z" fill="none" stroke="#000000"/><path d="M613.52 34.26L616.32 37.91L613.52 41.55L610.72 37.91Z" fill="none" stroke="#000000"/><path d="M620.52 34.39L623.32 38.04L620.52 41.69L617.72 38.04Z" fill="none" stroke="#000000"/><path d="M627.52 34.52L630.32 38.17L627.52 41.82L624.72 38.17Z" fill="none" stroke="#000000"/><path d="M634.52 34.65L637.32 38.3L634.52 41.95L631.72 38.3Z" fill="none" stroke="#000000"/><path d="M641.51 34.79L644.31 38.44L641.51 42.09L638.71 38.44Z" fill="none" stroke="#000000"/><path d="M648.51 34.92L651.31 38.57L648.51 42.22L645.71 38.57Z" fill="none" stroke="#000000"/><path d="M655.51 35.05L658.31 38.7L655.51 42.35L652.71 38.7Z" fill="none" stroke="#000000"/></g><path d="M375.6 199.1L382.6 199.22L389.59 199.35L396.59 199.47L403.59 199.6L410.59 199.72L417.58 199.85L424.58 199.97L431.58 200.1L438.58 200.22L445.58 200.35L452.57 200.47L459.57 200.6L466.57 200.72L473.57 200.85L480.56 200.97L487.56 201.1L494.56 201.22L501.56 201.35L508.56 201.47L515.55 201.6L522.55 201.72L529.55 201.85L536.55 201.97L543.54 202.1L550.54 202.22L557.54 202.35L564.54 202.47L571.54 202.6L578.53 202.72L585.53 202.85L592.53 202.97L599.53 203.1L606.52 203.22L613.52 203.35L620.52 203.47L627.52 203.6L634.52 203.72L641.51 203.85L648.51 203.97L655.51 204.1" fill="none" stroke="#00ff00"/><g stroke-width="1.2"><circle cx="375.6" cy="199.1" r="3.1" fill="none" stroke="#00ff00"/><circle cx="382.6" cy="199.22" r="3.1" fill="none" stroke="#00ff00"/><circle cx="389.59" cy="199.35" r="3.1" fill="none" stroke="#00ff00"/><circle cx="396.59" cy="199.47" r="3.1" fill="none" stroke="#00ff00"/><circle cx="403.59" cy="199.6" r="3.1" fill="none" stroke="#00ff00"/><circle cx="410.59" cy="199.72" r="3.1" fill="none" stroke="#00ff00"/><circle cx="417.58" cy="199.85" r="3.1" fill="none" stroke="#00ff00"/><circle cx="424.58" cy="199.97" r="3.1" fill="none" stroke="#00ff00"/><circle cx="431.58" cy="200.1" r="3.1" fill="none" stroke="#00ff00"/><circle cx="438.58" cy="200.22" r="3.1" fill="none" stroke="#00ff00"/><circle cx="445.58" cy="200.35" r="3.1" fill="none" stroke="#00ff00"/><circle cx="452.57" cy="200.47" r="3.1" fill="none" stroke="#00ff00"/><circle cx="459.57" cy="200.6" r="3.1" fill="none" stroke="#00ff00"/><circle cx="466.57" cy="200.72" r="3.1" fill="none" stroke="#00ff00"/><circle cx="473.57" cy="200.85" r="3.1" fill="none" stroke="#00ff00"/><circle cx="480.56" cy="200.97" r="3.1" fill="none" stroke="#00ff00"/><circle cx="487.56" cy="201.1" r="3.1" fill="none" stroke="#00ff00"/><circle cx="494.56" cy="201.22" r="3.1" fill="none" stroke="#00ff00"/><circle cx="501.56" cy="201.35" r="3.1" fill="none" stroke="#00ff00"/><circle cx="508.56" cy="201.47" r="3.1" fill="none" stroke="#00ff00"/><circle cx="515.55" cy="201.6" r="3.1" fill="none" stroke="#00ff00"/><circle cx="522.55" cy="201.72" r="3.1" fill="none" stroke="#00ff00"/><circle cx="529.55" cy="201.85" r="3.1" fill="none" stroke="#00ff00"/><circle cx="536.55" cy="201.97" r="3.1" fill="none" stroke="#00ff00"/><circle cx="543.54" cy="202.1" r="3.1" fill="none" stroke="#00ff00"/><circle cx="550.54" cy="202.22" r="3.1" fill="none" stroke="#00ff00"/><circle cx="557.54" cy="202.35" r="3.1" fill="none" stroke="#00ff00"/><circle cx="564.54" cy="202.47" r="3.1" fill="none" stroke="#00ff00"/><circle cx="571.54" cy="202.6" r="3.1" fill="none" stroke="#00ff00"/><circle cx="578.53" cy="202.72" r="3.1" fill="none" stroke="#00ff00"/><circle cx="585.53" cy="202.85" r="3.1" fill="none" stroke="#00ff00"/><circle cx="592.53" cy="202.97" r="3.1" fill="none" stroke="#00ff00"/><circle cx="599.53" cy="203.1" r="3.1" fill="none" stroke="#00ff00"/><circle cx="606.52" cy="203.22" r="3.1" fill="none" stroke="#00ff00"/><circle cx="613.52" cy="203.35" r="3.1" fill="none" stroke="#00ff00"/><circle cx="620.52" cy="203.47" r="3.1" fill="none" stroke="#00ff00"/><circle cx="627.52" cy="203.6" r="3.1" fill="none" stroke="#00ff00"/><circle cx="634.52" cy="203.72" r="3.1" fill="none" stroke="#00ff00"/><circle cx="641.51" cy="203.85" r="3.1" fill="none" stroke="#00ff00"/><circle cx="648.51" cy="203.97" r="3.1" fill="none" stroke="#00ff00"/><circle cx="655.51" cy="204.1" r="3.1" fill="none" stroke="#00ff00"/></g><path d="M375.6 146.4L382.6 146.55L389.59 146.71L396.59 146.86L403.59 147.01L410.59 147.16L417.58 147.31L424.58 147.47L431.58 147.62L438.58 147.77L445.58 147.93L452.57 148.08L459.57 148.23L466.57 148.38L473.57 148.53L480.56 148.69L487.56 148.84L494.56 148.99L501.56 149.15L508.56 149.3L515.55 149.45L522.55 149.6L529.55 149.75L536.55 149.91L543.54 150.06L550.54 150.21L557.54 150.37L564.54 150.52L571.54 150.67L578.53 150.82L585.53 150.97L592.53 151.13L599.53 151.28L606.52 151.43L613.52 151.59L620.52 151.74L627.52 151.89L634.52 152.04L641.51 152.19L648.51 152.35L655.51 152.5" fill="none" stroke="#0000ff"/><g stroke-width="1.2"><path d="M373.65 144.46L377.54 148.34M373.65 148.34L377.54 144.46M372.9 146.4H378.3M375.6 143.7V149.1" stroke="#0000ff"/><path d="M380.65 144.61L384.54 148.5M380.65 148.5L384.54 144.61M379.9 146.55H385.3M382.6 143.85V149.25" stroke="#0000ff"/><path d="M387.65 144.76L391.54 148.65M387.65 148.65L391.54 144.76M386.89 146.71H392.29M389.59 144.01V149.41" stroke="#0000ff"/><path d="M394.65 144.91L398.54 148.8M394.65 148.8L398.54 144.91M393.89 146.86H399.29M396.59 144.16V149.56" stroke="#0000ff"/><path d="M401.64 145.07L405.53 148.95M401.64 148.95L405.53 145.07M400.89 147.01H406.29M403.59 144.31V149.71" stroke="#0000ff"/><path d="M408.64 145.22L412.53 149.11M408.64 149.11L412.53 145.22M407.89 147.16H413.29M410.59 144.46V149.86" stroke="#0000ff"/><path d="M415.64 145.37L419.53 149.26M415.64 149.26L419.53 145.37M414.88 147.31H420.28M417.58 144.62V150.01" stroke="#0000ff"/><path d="M422.64 145.52L426.53 149.41M422.64 149.41L426.53 145.52M421.88 147.47H427.28M424.58 144.77V150.17" stroke="#0000ff"/><path d="M429.64 145.68L433.52 149.56M429.64 149.56L433.52 145.68M428.88 147.62H434.28M431.58 144.92V150.32" stroke="#0000ff"/><path d="M436.63 145.83L440.52 149.72M436.63 149.72L440.52 145.83M435.88 147.77H441.28M438.58 145.07V150.47" stroke="#0000ff"/><path d="M443.63 145.98L447.52 149.87M443.63 149.87L447.52 145.98M442.88 147.93H448.28M445.58 145.23V150.62" stroke="#0000ff"/><path d="M450.63 146.13L454.52 150.02M450.63 150.02L454.52 146.13M449.87 148.08H455.27M452.57 145.38V150.78" stroke="#0000ff"/><path d="M457.63 146.29L461.52 150.17M457.63 150.17L461.52 146.29M456.87 148.23H462.27M459.57 145.53V150.93" stroke="#0000ff"/><path d="M464.62 146.44L468.51 150.33M464.62 150.33L468.51 146.44M463.87 148.38H469.27M466.57 145.68V151.08" stroke="#0000ff"/><path d="M471.62 146.59L475.51 150.48M471.62 150.48L475.51 146.59M470.87 148.53H476.27M473.57 145.84V151.23" stroke="#0000ff"/><path d="M478.62 146.74L482.51 150.63M478.62 150.63L482.51 146.74M477.86 148.69H483.26M480.56 145.99V151.39" stroke="#0000ff"/><path d="M485.62 146.9L489.51 150.78M485.62 150.78L489.51 146.9M484.86 148.84H490.26M487.56 146.14V151.54" stroke="#0000ff"/><path d="M492.62 147.05L496.5 150.94M492.62 150.94L496.5 147.05M491.86 148.99H497.26M494.56 146.29V151.69" stroke="#0000ff"/><path d="M499.61 147.2L503.5 151.09M499.61 151.09L503.5 147.2M498.86 149.15H504.26M501.56 146.45V151.84" stroke="#0000ff"/><path d="M506.61 147.35L510.5 151.24M506.61 151.24L510.5 147.35M505.86 149.3H511.26M508.56 146.6V152" stroke="#0000ff"/><path d="M513.61 147.51L517.5 151.39M513.61 151.39L517.5 147.51M512.85 149.45H518.25M515.55 146.75V152.15" stroke="#0000ff"/><path d="M520.61 147.66L524.5 151.55M520.61 151.55L524.5 147.66M519.85 149.6H525.25M522.55 146.9V152.3" stroke="#0000ff"/><path d="M527.6 147.81L531.49 151.7M527.6 151.7L531.49 147.81M526.85 149.75H532.25M529.55 147.06V152.45" stroke="#0000ff"/><path d="M534.6 147.96L538.49 151.85M534.6 151.85L538.49 147.96M533.85 149.91H539.25M536.55 147.21V152.61" stroke="#0000ff"/><path d="M541.6 148.12L545.49 152M541.6 152L545.49 148.12M540.84 150.06H546.24M543.54 147.36V152.76" stroke="#0000ff"/><path d="M548.6 148.27L552.49 152.16M548.6 152.16L552.49 148.27M547.84 150.21H553.24M550.54 147.51V152.91" stroke="#0000ff"/><path d="M555.6 148.42L559.48 152.31M555.6 152.31L559.48 148.42M554.84 150.37H560.24M557.54 147.67V153.06" stroke="#0000ff"/><path d="M562.59 148.57L566.48 152.46M562.59 152.46L566.48 148.57M561.84 150.52H567.24M564.54 147.82V153.22" stroke="#0000ff"/><path d="M569.59 148.73L573.48 152.61M569.59 152.61L573.48 148.73M568.84 150.67H574.24M571.54 147.97V153.37" stroke="#0000ff"/><path d="M576.59 148.88L580.48 152.77M576.59 152.77L580.48 148.88M575.83 150.82H581.23M578.53 148.12V153.52" stroke="#0000ff"/><path d="M583.59 149.03L587.48 152.92M583.59 152.92L587.48 149.03M582.83 150.97H588.23M585.53 148.28V153.67" stroke="#0000ff"/><path d="M590.58 149.18L594.47 153.07M590.58 153.07L594.47 149.18M589.83 151.13H595.23M592.53 148.43V153.83" stroke="#0000ff"/><path d="M597.58 149.34L601.47 153.22M597.58 153.22L601.47 149.34M596.83 151.28H602.23M599.53 148.58V153.98" stroke="#0000ff"/><path d="M604.58 149.49L608.47 153.38M604.58 153.38L608.47 149.49M603.82 151.43H609.22M606.52 148.73V154.13" stroke="#0000ff"/><path d="M611.58 149.64L615.47 153.53M611.58 153.53L615.47 149.64M610.82 151.59H616.22M613.52 148.89V154.28" stroke="#0000ff"/><path d="M618.58 149.79L622.46 153.68M618.58 153.68L622.46 149.79M617.82 151.74H623.22M620.52 149.04V154.44" stroke="#0000ff"/><path d="M625.57 149.95L629.46 153.83M625.57 153.83L629.46 149.95M624.82 151.89H630.22M627.52 149.19V154.59" stroke="#0000ff"/><path d="M632.57 150.1L636.46 153.99M632.57 153.99L636.46 150.1M631.82 152.04H637.22M634.52 149.34V154.74" stroke="#0000ff"/><path d="M639.57 150.25L643.46 154.14M639.57 154.14L643.46 150.25M638.81 152.19H644.21M641.51 149.5V154.89" stroke="#0000ff"/><path d="M646.57 150.4L650.46 154.29M646.57 154.29L650.46 150.4M645.81 152.35H651.21M648.51 149.65V155.05" stroke="#0000ff"/><path d="M653.56 150.56L657.45 154.44M653.56 154.44L657.45 150.56M652.81 152.5H658.21M655.51 149.8V155.2" stroke="#0000ff"/></g><path d="M375.6 63.3L382.6 63.38L389.59 63.45L396.59 63.52L403.59 63.6L410.59 63.67L417.58 63.75L424.58 63.82L431.58 63.9L438.58 63.97L445.58 64.05L452.57 64.12L459.57 64.2L466.57 64.27L473.57 64.35L480.56 64.42L487.56 64.5L494.56 64.58L501.56 64.65L508.56 64.72L515.55 64.8L522.55 64.88L529.55 64.95L536.55 65.02L543.54 65.1L550.54 65.17L557.54 65.25L564.54 65.33L571.54 65.4L578.53 65.47L585.53 65.55L592.53 65.62L599.53 65.7L606.52 65.77L613.52 65.85L620.52 65.92L627.52 66L634.52 66.08L641.51 66.15L648.51 66.22L655.51 66.3" fill="none" stroke="#ff0000" stroke-dasharray="4.3 3.3"/><g stroke-width="1.2"><path d="M372.9 63.3H378.3M375.6 60.6V66" stroke="#ff0000"/><path d="M379.9 63.38H385.3M382.6 60.67V66.08" stroke="#ff0000"/><path d="M386.89 63.45H392.29M389.59 60.75V66.15" stroke="#ff0000"/><path d="M393.89 63.52H399.29M396.59 60.82V66.22" stroke="#ff0000"/><path d="M400.89 63.6H406.29M403.59 60.9V66.3" stroke="#ff0000"/><path d="M407.89 63.67H413.29M410.59 60.97V66.38" stroke="#ff0000"/><path d="M414.88 63.75H420.28M417.58 61.05V66.45" stroke="#ff0000"/><path d="M421.88 63.82H427.28M424.58 61.12V66.52" stroke="#ff0000"/><path d="M428.88 63.9H434.28M431.58 61.2V66.6" stroke="#ff0000"/><path d="M435.88 63.97H441.28M438.58 61.27V66.67" stroke="#ff0000"/><path d="M442.88 64.05H448.28M445.58 61.35V66.75" stroke="#ff0000"/><path d="M449.87 64.12H455.27M452.57 61.42V66.83" stroke="#ff0000"/><path d="M456.87 64.2H462.27M459.57 61.5V66.9" stroke="#ff0000"/><path d="M463.87 64.27H469.27M466.57 61.57V66.97" stroke="#ff0000"/><path d="M470.87 64.35H476.27M473.57 61.65V67.05" stroke="#ff0000"/><path d="M477.86 64.42H483.26M480.56 61.72V67.12" stroke="#ff0000"/><path d="M484.86 64.5H490.26M487.56 61.8V67.2" stroke="#ff0000"/><path d="M491.86 64.58H497.26M494.56 61.88V67.28" stroke="#ff0000"/><path d="M498.86 64.65H504.26M501.56 61.95V67.35" stroke="#ff0000"/><path d="M505.86 64.72H511.26M508.56 62.02V67.42" stroke="#ff0000"/><path d="M512.85 64.8H518.25M515.55 62.1V67.5" stroke="#ff0000"/><path d="M519.85 64.88H525.25M522.55 62.17V67.58" stroke="#ff0000"/><path d="M526.85 64.95H532.25M529.55 62.25V67.65" stroke="#ff0000"/><path d="M533.85 65.02H539.25M536.55 62.32V67.72" stroke="#ff0000"/><path d="M540.84 65.1H546.24M543.54 62.4V67.8" stroke="#ff0000"/><path d="M547.84 65.17H553.24M550.54 62.47V67.88" stroke="#ff0000"/><path d="M554.84 65.25H560.24M557.54 62.55V67.95" stroke="#ff0000"/><path d="M561.84 65.33H567.24M564.54 62.62V68.03" stroke="#ff0000"/><path d="M568.84 65.4H574.24M571.54 62.7V68.1" stroke="#ff0000"/><path d="M575.83 65.47H581.23M578.53 62.77V68.17" stroke="#ff0000"/><path d="M582.83 65.55H588.23M585.53 62.85V68.25" stroke="#ff0000"/><path d="M589.83 65.62H595.23M592.53 62.92V68.33" stroke="#ff0000"/><path d="M596.83 65.7H602.23M599.53 63V68.4" stroke="#ff0000"/><path d="M603.82 65.77H609.22M606.52 63.07V68.47" stroke="#ff0000"/><path d="M610.82 65.85H616.22M613.52 63.15V68.55" stroke="#ff0000"/><path d="M617.82 65.92H623.22M620.52 63.22V68.62" stroke="#ff0000"/><path d="M624.82 66H630.22M627.52 63.3V68.7" stroke="#ff0000"/><path d="M631.82 66.08H637.22M634.52 63.38V68.78" stroke="#ff0000"/><path d="M638.81 66.15H644.21M641.51 63.45V68.85" stroke="#ff0000"/><path d="M645.81 66.22H651.21M648.51 63.52V68.92" stroke="#ff0000"/><path d="M652.81 66.3H658.21M655.51 63.6V69" stroke="#ff0000"/></g><path d="M375.6 249.6L382.6 249.72L389.59 249.84L396.59 249.97L403.59 250.09L410.59 250.21L417.58 250.34L424.58 250.46L431.58 250.58L438.58 250.7L445.58 250.82L452.57 250.95L459.57 251.07L466.57 251.19L473.57 251.31L480.56 251.44L487.56 251.56L494.56 251.68L501.56 251.81L508.56 251.93L515.55 252.05L522.55 252.17L529.55 252.29L536.55 252.42L543.54 252.54L550.54 252.66L557.54 252.78L564.54 252.91L571.54 253.03L578.53 253.15L585.53 253.28L592.53 253.4L599.53 253.52L606.52 253.64L613.52 253.76L620.52 253.89L627.52 254.01L634.52 254.13L641.51 254.25L648.51 254.38L655.51 254.5" fill="none" stroke="#00ffff" stroke-dasharray="4.3 3.3"/><g stroke-width="1.2"><path d="M372.2 247.7L379 247.7L375.6 253.5Z" fill="none" stroke="#00ffff"/><path d="M379.2 247.82L386 247.82L382.6 253.62Z" fill="none" stroke="#00ffff"/><path d="M386.19 247.94L392.99 247.94L389.59 253.75Z" fill="none" stroke="#00ffff"/><path d="M393.19 248.07L399.99 248.07L396.59 253.87Z" fill="none" stroke="#00ffff"/><path d="M400.19 248.19L406.99 248.19L403.59 253.99Z" fill="none" stroke="#00ffff"/><path d="M407.19 248.31L413.99 248.31L410.59 254.11Z" fill="none" stroke="#00ffff"/><path d="M414.18 248.44L420.98 248.44L417.58 254.24Z" fill="none" stroke="#00ffff"/><path d="M421.18 248.56L427.98 248.56L424.58 254.36Z" fill="none" stroke="#00ffff"/><path d="M428.18 248.68L434.98 248.68L431.58 254.48Z" fill="none" stroke="#00ffff"/><path d="M435.18 248.8L441.98 248.8L438.58 254.6Z" fill="none" stroke="#00ffff"/><path d="M442.18 248.92L448.98 248.92L445.58 254.72Z" fill="none" stroke="#00ffff"/><path d="M449.17 249.05L455.97 249.05L452.57 254.85Z" fill="none" stroke="#00ffff"/><path d="M456.17 249.17L462.97 249.17L459.57 254.97Z" fill="none" stroke="#00ffff"/><path d="M463.17 249.29L469.97 249.29L466.57 255.09Z" fill="none" stroke="#00ffff"/><path d="M470.17 249.41L476.97 249.41L473.57 255.22Z" fill="none" stroke="#00ffff"/><path d="M477.16 249.54L483.96 249.54L480.56 255.34Z" fill="none" stroke="#00ffff"/><path d="M484.16 249.66L490.96 249.66L487.56 255.46Z" fill="none" stroke="#00ffff"/><path d="M491.16 249.78L497.96 249.78L494.56 255.58Z" fill="none" stroke="#00ffff"/><path d="M498.16 249.91L504.96 249.91L501.56 255.71Z" fill="none" stroke="#00ffff"/><path d="M505.16 250.03L511.96 250.03L508.56 255.83Z" fill="none" stroke="#00ffff"/><path d="M512.15 250.15L518.95 250.15L515.55 255.95Z" fill="none" stroke="#00ffff"/><path d="M519.15 250.27L525.95 250.27L522.55 256.07Z" fill="none" stroke="#00ffff"/><path d="M526.15 250.39L532.95 250.39L529.55 256.19Z" fill="none" stroke="#00ffff"/><path d="M533.15 250.52L539.95 250.52L536.55 256.32Z" fill="none" stroke="#00ffff"/><path d="M540.14 250.64L546.94 250.64L543.54 256.44Z" fill="none" stroke="#00ffff"/><path d="M547.14 250.76L553.94 250.76L550.54 256.56Z" fill="none" stroke="#00ffff"/><path d="M554.14 250.88L560.94 250.88L557.54 256.69Z" fill="none" stroke="#00ffff"/><path d="M561.14 251.01L567.94 251.01L564.54 256.81Z" fill="none" stroke="#00ffff"/><path d="M568.14 251.13L574.94 251.13L571.54 256.93Z" fill="none" stroke="#00ffff"/><path d="M575.13 251.25L581.93 251.25L578.53 257.05Z" fill="none" stroke="#00ffff"/><path d="M582.13 251.38L588.93 251.38L585.53 257.18Z" fill="none" stroke="#00ffff"/><path d="M589.13 251.5L595.93 251.5L592.53 257.3Z" fill="none" stroke="#00ffff"/><path d="M596.13 251.62L602.93 251.62L599.53 257.42Z" fill="none" stroke="#00ffff"/><path d="M603.12 251.74L609.92 251.74L606.52 257.54Z" fill="none" stroke="#00ffff"/><path d="M610.12 251.86L616.92 251.86L613.52 257.66Z" fill="none" stroke="#00ffff"/><path d="M617.12 251.99L623.92 251.99L620.52 257.79Z" fill="none" stroke="#00ffff"/><path d="M624.12 252.11L630.92 252.11L627.52 257.91Z" fill="none" stroke="#00ffff"/><path d="M631.12 252.23L637.92 252.23L634.52 258.03Z" fill="none" stroke="#00ffff"/><path d="M638.11 252.35L644.91 252.35L641.51 258.15Z" fill="none" stroke="#00ffff"/><path d="M645.11 252.48L651.91 252.48L648.51 258.28Z" fill="none" stroke="#00ffff"/><path d="M652.11 252.6L658.91 252.6L655.51 258.4Z" fill="none" stroke="#00ffff"/></g></g>
<rect x="233.5" y="21" width="83.7" height="74" fill="#fff" stroke="#707070"/>
<path d="M236.1 28.1H264.9" stroke="#ffff00"/>
<g stroke-width="1.2"><path d="M248.4 24.8L253.6 28.1L248.4 31.4Z" fill="none" stroke="#ffff00"/></g>
<text transform="translate(267.2 32.1) scale(0.96 1)" class="lg">HCOA</text>
<path d="M236.1 40H264.9" stroke="#000000"/>
<g stroke-width="1.2"><path d="M250.5 36.35L253.3 40L250.5 43.65L247.7 40Z" fill="none" stroke="#000000"/></g>
<text transform="translate(267.2 44) scale(0.96 1)" class="lg">BBPSO</text>
<path d="M236.1 51.9H264.9" stroke="#00ff00"/>
<g stroke-width="1.2"><circle cx="250.5" cy="51.9" r="3.1" fill="none" stroke="#00ff00"/></g>
<text transform="translate(267.2 55.9) scale(0.96 1)" class="lg">PBBPSO</text>
<path d="M236.1 63.8H264.9" stroke="#0000ff"/>
<g stroke-width="1.2"><path d="M248.56 61.86L252.44 65.74M248.56 65.74L252.44 61.86M247.8 63.8H253.2M250.5 61.1V66.5" stroke="#0000ff"/></g>
<text transform="translate(267.2 67.8) scale(0.96 1)" class="lg">DLSBBPSO</text>
<path d="M236.1 75.7H264.9" stroke="#ff0000" stroke-dasharray="4.3 3.3"/>
<g stroke-width="1.2"><path d="M247.8 75.7H253.2M250.5 73V78.4" stroke="#ff0000"/></g>
<text transform="translate(267.2 79.7) scale(0.96 1)" class="lg">TBBPSO</text>
<path d="M236.1 87.6H264.9" stroke="#00ffff" stroke-dasharray="4.3 3.3"/>
<g stroke-width="1.2"><path d="M247.1 85.7L253.9 85.7L250.5 91.5Z" fill="none" stroke="#00ffff"/></g>
<text transform="translate(267.2 91.6) scale(0.96 1)" class="lg">ETBBPSO</text>
<rect x="591.5" y="21" width="84" height="74" fill="#fff" stroke="#707070"/>
<path d="M594.1 28.1H622.9" stroke="#ffff00"/>
<g stroke-width="1.2"><path d="M606.4 24.8L611.6 28.1L606.4 31.4Z" fill="none" stroke="#ffff00"/></g>
<text transform="translate(625.2 32.1) scale(0.96 1)" class="lg">HCOA</text>
<path d="M594.1 40H622.9" stroke="#000000"/>
<g stroke-width="1.2"><path d="M608.5 36.35L611.3 40L608.5 43.65L605.7 40Z" fill="none" stroke="#000000"/></g>
<text transform="translate(625.2 44) scale(0.96 1)" class="lg">BBPSO</text>
<path d="M594.1 51.9H622.9" stroke="#00ff00"/>
<g stroke-width="1.2"><circle cx="608.5" cy="51.9" r="3.1" fill="none" stroke="#00ff00"/></g>
<text transform="translate(625.2 55.9) scale(0.96 1)" class="lg">PBBPSO</text>
<path d="M594.1 63.8H622.9" stroke="#0000ff"/>
<g stroke-width="1.2"><path d="M606.56 61.86L610.44 65.74M606.56 65.74L610.44 61.86M605.8 63.8H611.2M608.5 61.1V66.5" stroke="#0000ff"/></g>
<text transform="translate(625.2 67.8) scale(0.96 1)" class="lg">DLSBBPSO</text>
<path d="M594.1 75.7H622.9" stroke="#ff0000" stroke-dasharray="4.3 3.3"/>
<g stroke-width="1.2"><path d="M605.8 75.7H611.2M608.5 73V78.4" stroke="#ff0000"/></g>
<text transform="translate(625.2 79.7) scale(0.96 1)" class="lg">TBBPSO</text>
<path d="M594.1 87.6H622.9" stroke="#00ffff" stroke-dasharray="4.3 3.3"/>
<g stroke-width="1.2"><path d="M605.1 85.7L611.9 85.7L608.5 91.5Z" fill="none" stroke="#00ffff"/></g>
<text transform="translate(625.2 91.6) scale(0.96 1)" class="lg">ETBBPSO</text>
</svg>
</body></html>
